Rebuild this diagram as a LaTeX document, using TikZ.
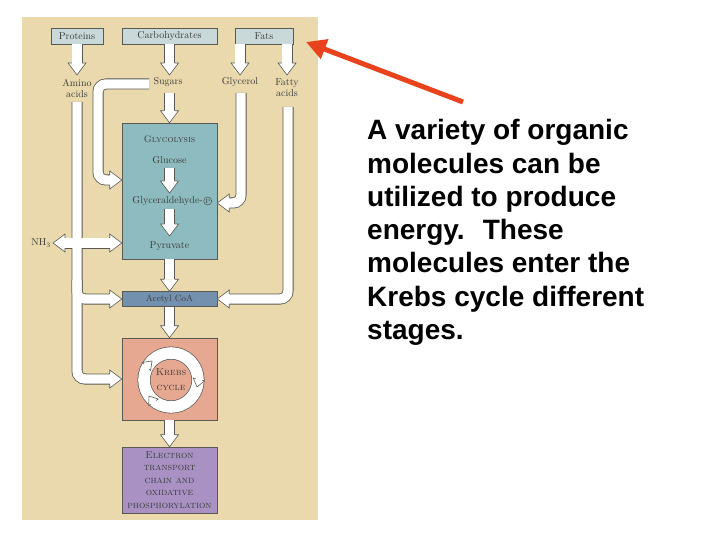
\documentclass[tikz,border=0pt]{standalone}
\usepackage{fontspec}
\newfontfamily\notefont{Liberation Sans}
\usetikzlibrary{positioning,calc,arrows.meta}

\definecolor{paper}{HTML}{EAD9AC}
\definecolor{source}{HTML}{C9D8D8}
\definecolor{glyfill}{HTML}{8DBBBF}
\definecolor{acefill}{HTML}{7391AE}
\definecolor{krebsfill}{HTML}{E6A891}
\definecolor{etcfill}{HTML}{A992C3}
\definecolor{edgegray}{HTML}{5A5A55}
\definecolor{inkgray}{HTML}{3A3A3A}
\definecolor{pointred}{HTML}{E8431C}

\tikzset{
  box/.style={draw=edgegray, line width=0.5pt, inner sep=0pt},
  lbl/.style={text=inkgray, align=center, inner sep=0pt},
  pointer/.style={draw=pointred, line width=5pt, -{Triangle[length=20pt, width=20pt]}},
  head/.pic={
    \fill[white] (-12,-4.7) -- (-12,-9) -- (0,0) -- (-12,9) -- (-12,4.7) -- cycle;
    \draw[edgegray, line width=0.6pt] (-12,-5.1) -- (-12,-9) -- (0,0) -- (-12,9) -- (-12,5.1);
  }
}

% white block arrows, drawn twice (edge pass, then white pass)
\newcommand\shafts{%
  % sources to products
  \draw (prot.south) -- ++(0,19);
  \draw (carb.south) -- ++(0,19);
  \draw (240,44) -- (240,63);
  \draw (287,44) -- (287,63);
  % sugars
  \draw (169.5,93) -- (169.5,111);
  \draw[rounded corners=8pt] (149,84) -- (98,84) -- (98,180) -- (111,180);
  % glycerol
  \draw[rounded corners=8pt] (241,93) -- (241,203) -- (229,203);
  % inside glycolysis
  \draw (169.5,168) -- (169.5,181);
  \draw (169.5,209) -- (169.5,224);
  % down the main line
  \draw (glyc.south) -- ++(0,20);
  \draw (acetyl.south) -- ++(0,20);
  \draw (krebs.south) -- ++(0,15);
  % fatty acids
  \draw[rounded corners=8pt] (288,107) -- (288,299) -- (229,299);
  % amino acids
  \draw[rounded corners=8pt] (77,102) -- (77,379) -- (110,379);
  \draw (65,243) -- (110,243);
  \draw[rounded corners=8pt] (77,280) -- (77,299) -- (110,299);
}

\begin{document}
\begin{tikzpicture}[x=1pt, y=-1pt, font=\fontsize{10}{11}\selectfont]
\useasboundingbox (0,0) rectangle (720,540);

% scanned panel
\fill[paper] (22,17) rectangle (318,520);

% food sources
\node[box, fill=source, minimum width=52pt, minimum height=16pt, text=inkgray] (prot) at (77,36) {Proteins};
\node[box, fill=source, minimum width=95pt, minimum height=16pt, text=inkgray] (carb) at (169.5,36) {Carbohydrates};
\node[box, fill=source, minimum width=58pt, minimum height=16pt, text=inkgray] (fats) at (264,36) {Fats};

% stages
\node[box, fill=glyfill, minimum width=95pt, minimum height=136pt] (glyc) at (169.5,191) {};
\node[box, fill=acefill, minimum width=95pt, minimum height=15pt] (acetyl) at (169.5,299) {};
\node[box, fill=krebsfill, minimum width=95pt, minimum height=82pt] (krebs) at (169.5,379) {};
\node[box, fill=etcfill, minimum width=95pt, minimum height=66pt] (etc) at (169.5,480) {};

% krebs ring
\coordinate (ring) at (171,380);
\draw[edgegray, line width=13pt] (ring) circle (27pt);
\draw[white, line width=11.6pt] (ring) circle (27pt);

% arrows
\begin{scope}[color=edgegray, line width=11pt]
  \shafts
\end{scope}
\begin{scope}[color=white, line width=9.4pt]
  \shafts
\end{scope}

\pic[rotate=-90] at (prot.south |- 0,75) {head};
\pic[rotate=-90] at (carb.south |- 0,75) {head};
\pic[rotate=-90] at (240,75) {head};
\pic[rotate=-90] at (287,75) {head};
\pic[rotate=-90] at (glyc.north) {head};
\pic at (glyc.west |- 0,180) {head};
\pic[rotate=180] at (glyc.east |- 0,203) {head};
\pic[rotate=-90] at (169.5,193) {head};
\pic[rotate=-90] at (169.5,236) {head};
\pic[rotate=-90] at (acetyl.north) {head};
\pic[rotate=-90] at (krebs.north) {head};
\pic[rotate=-90] at (etc.north) {head};
\pic[rotate=180] at (acetyl.east) {head};
\pic at (acetyl.west) {head};
\pic at (glyc.west |- 0,243) {head};
\pic[rotate=180] at (53,243) {head};
\pic at (krebs.west) {head};
\pic[rotate=45, scale=0.65] at (152,361) {head};
\pic[rotate=-104, scale=0.65] at (197,387) {head};
\pic[rotate=125, scale=0.65] at (149,396) {head};

% labels
\node[lbl] (amino) at (77,88) {Amino\\acids};
\node[lbl] (sugars) at (168,82) {Sugars};
\node[lbl] (glycerol) at (240,82) {Glycerol};
\node[lbl] (fatty) at (287,88) {Fatty\\acids};
\node[lbl, anchor=east] (nh) at (51,243) {NH$_3$};

\node[lbl, font=\fontsize{9.5}{10}\selectfont] (glytitle) at (169.5,139) {\textsc{Glycolysis}};
\node[lbl] (glucose) at (169.5,160) {Glucose};
\node[lbl, anchor=east] (gap) at (203,201) {Glyceraldehyde-};
\node[circle, draw=inkgray, line width=0.4pt, inner sep=0.6pt, text=inkgray, font=\fontsize{6}{6}\selectfont, right=0.5pt of gap] (pmark) {P};
\node[lbl] (pyruvate) at (169.5,246) {Pyruvate};
\node[lbl, font=\fontsize{9}{10}\selectfont] (acname) at (169.5,299) {Acetyl CoA};
\node[lbl, font=\fontsize{10}{15}\selectfont] (krname) at (171,380) {\textsc{Krebs}\\\textsc{cycle}};
\node[lbl, font=\fontsize{10}{12.4}\selectfont] (etcname) at (169.5,480) {\textsc{Electron}\\\textsc{transport}\\\textsc{chain and}\\\textsc{oxidative}\\\textsc{phosphorylation}};

% pointer and note
\coordinate (ptail) at (463,102);
\coordinate (ptip) at (306,42);
\draw[pointer] (ptail) -- (ptip);

\node[anchor=base west, align=left, inner sep=0pt, font=\notefont\bfseries\fontsize{28}{33.3}\selectfont] (note) at (367,339.5)
  {A variety of organic\\molecules can be\\utilized to produce\\energy.~ These\\molecules enter the\\Krebs cycle different\\stages.};
\end{tikzpicture}
\end{document}
